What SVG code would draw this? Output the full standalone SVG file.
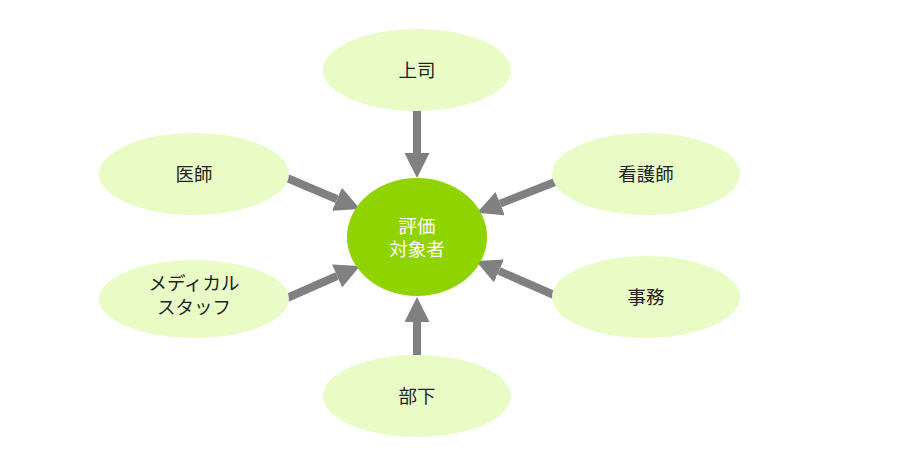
<svg xmlns="http://www.w3.org/2000/svg" width="900" height="470" viewBox="0 0 900 470">
<style>
.n{fill:#EAFCC6;}
.c{fill:#8FD300;}
.t{font-family:"Noto Sans CJK JP","Noto Sans",sans-serif;font-size:18.5px;fill:#222;text-anchor:middle;}
.w{fill:#fff;}
.a{stroke:#808080;stroke-width:8;fill:none;marker-end:url(#ah);}
</style>
<defs>
<marker id="ah" markerUnits="userSpaceOnUse" markerWidth="26" markerHeight="26" refX="0" refY="12.5" orient="auto" viewBox="0 0 26 26">
<path d="M0,0 L25,12.5 L0,25 z" fill="#808080"/>
</marker>
</defs>
<rect width="900" height="470" fill="#fff"/>
<g id="connectors">
<line class="a" x1="417" y1="110" x2="417" y2="153"/>
<line class="a" x1="417" y1="357" x2="417" y2="322"/>
<line class="a" x1="287" y1="178" x2="337" y2="199.3"/>
<line class="a" x1="287" y1="298" x2="337.1" y2="276"/>
<line class="a" x1="555" y1="182" x2="500.2" y2="203.6"/>
<line class="a" x1="554" y1="295" x2="498.9" y2="270.9"/>
</g>
<g id="center">
<ellipse class="c" cx="417" cy="237" rx="70" ry="59"/>
<text class="t w" x="417" y="233">評価</text>
<text class="t w" x="417" y="256">対象者</text>
</g>
<g id="joshi">
<ellipse class="n" cx="417" cy="70" rx="94" ry="41"/>
<text class="t" x="417" y="77">上司</text>
</g>
<g id="ishi">
<ellipse class="n" cx="194" cy="174" rx="95" ry="41"/>
<text class="t" x="194" y="181">医師</text>
</g>
<g id="kangoshi">
<ellipse class="n" cx="646" cy="174" rx="94" ry="41"/>
<text class="t" x="646" y="181">看護師</text>
</g>
<g id="medical">
<ellipse class="n" cx="194" cy="299" rx="95" ry="39"/>
<text class="t" x="194" y="290">メディカル</text>
<text class="t" x="194" y="314">スタッフ</text>
</g>
<g id="jimu">
<ellipse class="n" cx="646" cy="297" rx="94" ry="41"/>
<text class="t" x="646" y="304">事務</text>
</g>
<g id="buka">
<ellipse class="n" cx="417" cy="396" rx="94" ry="41"/>
<text class="t" x="417" y="403">部下</text>
</g>
</svg>
